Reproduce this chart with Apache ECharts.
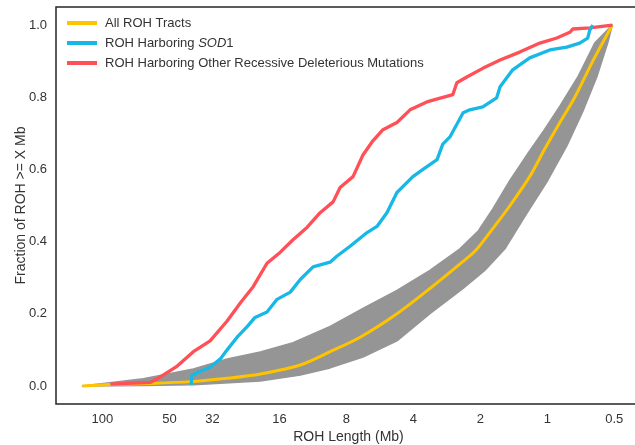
<!DOCTYPE html>
<html><head><meta charset="utf-8">
<script src="https://cdn.jsdelivr.net/npm/echarts@6/dist/echarts.min.js"></script>
<style>html,body{margin:0;padding:0;background:#fff}#c{width:635px;height:445px}</style>
</head><body><div id="c"></div>
<script>
// X tick labels (ROH length, Mb) and Y tick labels
const xTickLabels = [100, 50, 32, 16, 8, 4, 2, 1, 0.5];
const yTickLabels = [0, 0.2, 0.4, 0.6, 0.8, 1.0];

// All ROH Tracts (mean curve)
const allX = [123, 92.1, 60.9, 40.3, 26.6, 19.5, 12.9, 9.47, 6.94, 4.74, 3.37, 2.39, 2.08, 1.69, 1.47, 1.20, 1.03, 0.878, 0.752, 0.624, 0.51];
const allY = [0.0, 0.004, 0.007, 0.012, 0.022, 0.033, 0.058, 0.095, 0.135, 0.20, 0.27, 0.345, 0.378, 0.45, 0.50, 0.58, 0.655, 0.73, 0.80, 0.90, 1.0];

// ROH Harboring SOD1
const sodX = [39.9, 39.6, 36.3, 32.8, 29.5, 27.5, 24.8, 22.3, 20.6, 18.2, 16.4, 14.3, 12.9, 11.3, 9.47, 8.81, 7.70, 6.46, 5.83, 5.26, 4.74, 4.02, 3.62, 3.13, 2.95, 2.74, 2.39, 2.23, 1.95, 1.69, 1.63, 1.43, 1.20, 0.974, 0.817, 0.715, 0.658, 0.644, 0.624];
const sodY = [0.003, 0.03, 0.04, 0.052, 0.075, 0.10, 0.135, 0.165, 0.19, 0.205, 0.24, 0.26, 0.295, 0.33, 0.343, 0.36, 0.387, 0.425, 0.442, 0.48, 0.536, 0.58, 0.60, 0.627, 0.67, 0.69, 0.757, 0.765, 0.773, 0.798, 0.829, 0.876, 0.909, 0.931, 0.939, 0.95, 0.964, 0.986, 1.0];

// ROH Harboring Other Recessive Deleterious Mutations
const otherX = [92.1, 60.9, 54.9, 46.1, 39.0, 32.8, 27.5, 24.0, 21.0, 18.2, 15.9, 13.9, 12.0, 10.5, 9.18, 8.54, 7.47, 6.74, 6.07, 5.48, 4.74, 4.14, 3.48, 2.66, 2.55, 2.30, 1.95, 1.63, 1.33, 1.08, 0.906, 0.792, 0.768, 0.644, 0.51];
const otherY = [0.005, 0.010, 0.025, 0.055, 0.095, 0.125, 0.18, 0.23, 0.275, 0.34, 0.37, 0.405, 0.44, 0.48, 0.51, 0.55, 0.58, 0.64, 0.68, 0.71, 0.73, 0.765, 0.787, 0.807, 0.84, 0.856, 0.88, 0.903, 0.925, 0.95, 0.964, 0.98, 0.989, 0.992, 1.0];

// Permutation band (grey): upper and lower envelopes
const bandUpX = [123, 65.5, 39.0, 27.5, 19.5, 13.9, 9.47, 6.74, 4.74, 3.37, 2.47, 2.04, 1.76, 1.47, 1.22, 1.03, 0.878, 0.729, 0.612, 0.51];
const bandUpY = [0.0, 0.02, 0.047, 0.075, 0.094, 0.12, 0.165, 0.215, 0.265, 0.32, 0.38, 0.43, 0.49, 0.57, 0.645, 0.71, 0.775, 0.856, 0.95, 1.0];
const bandLoX = [123, 65.5, 39.0, 19.5, 12.9, 9.47, 6.74, 4.74, 3.37, 2.39, 1.91, 1.55, 1.26, 0.994, 0.817, 0.693, 0.599, 0.535, 0.51];
const bandLoY = [0.0, 0.001, 0.003, 0.014, 0.03, 0.05, 0.08, 0.125, 0.20, 0.27, 0.32, 0.38, 0.47, 0.57, 0.665, 0.76, 0.856, 0.95, 1.0];

const zip = (xs, ys) => xs.map((x, i) => [x, ys[i]]);
const FONT = '"Liberation Sans", Arial, sans-serif';
const TXT = '#333333';
const GREY = '#959595';

const chart = echarts.init(document.getElementById('c'), null, {renderer: 'canvas'});
chart.setOption({
  animation: false,
  backgroundColor: '#ffffff',
  textStyle: {fontFamily: FONT},
  grid: {left: 56, top: 7, width: 585, height: 397, containLabel: false, outerBoundsMode: 'none',
    show: true, borderColor: '#262626', borderWidth: 1.5, backgroundColor: 'transparent'},
  legend: {
    orient: 'vertical', left: 67, top: 15, padding: 0, itemGap: 4,
    itemWidth: 30, itemHeight: 4, icon: 'rect',
    data: ['All ROH Tracts', 'ROH Harboring SOD1', 'ROH Harboring Other Recessive Deleterious Mutations'],
    formatter: function (name) {
      if (name === 'ROH Harboring SOD1') return '{n|ROH Harboring }{i|SOD}{n|1}';
      return '{n|' + name + '}';
    },
    textStyle: {
      color: TXT, fontSize: 13, fontFamily: FONT, lineHeight: 16, padding: [0, 0, 0, 3],
      rich: {
        n: {color: TXT, fontSize: 13, fontFamily: FONT, lineHeight: 16},
        i: {color: TXT, fontSize: 13, fontFamily: FONT, fontStyle: 'italic', lineHeight: 16}
      }
    }
  },
  xAxis: {
    type: 'log', logBase: 2, min: 0.379, max: 161.7, inverse: true,
    axisLine: {show: false}, axisTick: {show: false}, splitLine: {show: false},
    minorTick: {show: false}, minorSplitLine: {show: false},
    axisLabel: {customValues: xTickLabels, margin: 9, fontSize: 13, color: TXT, fontFamily: FONT,
      formatter: v => String(+(+v).toPrecision(6))},
    name: 'ROH Length (Mb)', nameLocation: 'middle', nameGap: 26, nameMoveOverlap: false,
    nameTextStyle: {fontSize: 14, color: TXT, fontFamily: FONT}
  },
  yAxis: {
    type: 'value', min: -0.05, max: 1.05,
    axisLine: {show: false}, axisTick: {show: false}, splitLine: {show: false},
    axisLabel: {customValues: yTickLabels, margin: 9, fontSize: 13, color: TXT, fontFamily: FONT,
      formatter: v => (+v).toFixed(1)},
    name: 'Fraction of ROH >= X Mb', nameLocation: 'middle', nameGap: 28, nameMoveOverlap: false,
    nameTextStyle: {fontSize: 14, color: TXT, fontFamily: FONT}
  },
  series: [
    {
      name: 'band', type: 'custom', silent: true, z: 1, clip: true,
      data: [[1, 0.5]],
      renderItem: function (params, api) {
        const pts = [];
        for (let i = 0; i < bandUpX.length; i++) pts.push(api.coord([bandUpX[i], bandUpY[i]]));
        for (let i = bandLoX.length - 1; i >= 0; i--) pts.push(api.coord([bandLoX[i], bandLoY[i]]));
        return {type: 'polygon', shape: {points: pts}, style: {fill: GREY, stroke: GREY, lineWidth: 1.5, lineJoin: 'round'}};
      }
    },
    {name: 'All ROH Tracts', type: 'line', z: 3, color: '#FFC400', showSymbol: false, smooth: 0.3,
      lineStyle: {width: 3, color: '#FFC400'}, data: zip(allX, allY)},
    {name: 'ROH Harboring Other Recessive Deleterious Mutations', type: 'line', z: 4, color: '#FF4F57', showSymbol: false,
      lineStyle: {width: 3.3, color: '#FF4F57', join: 'round'}, data: zip(otherX, otherY)},
    {name: 'ROH Harboring SOD1', type: 'line', z: 5, color: '#18B8E6', showSymbol: false,
      lineStyle: {width: 3.3, color: '#18B8E6', join: 'round'}, data: zip(sodX, sodY)}
  ]
});
</script></body></html>
